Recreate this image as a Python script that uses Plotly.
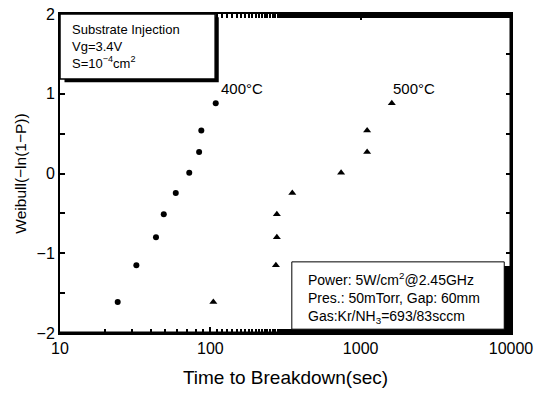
import plotly.graph_objects as go

# Data
weibull_y = [-1.61, -1.15, -0.80, -0.51, -0.245, 0.01, 0.27, 0.54, 0.88]
t_400C = [24.2, 32.2, 43.5, 49.0, 58.9, 72.4, 84.2, 87.1, 108.6]
t_500C = [104.7, 273, 277, 277, 351, 741, 1104, 1104, 1611]

x_tickvals = [10, 100, 1000, 10000]
x_ticktext = ["10", "100", "1000", "10000"]
y_tickvals = [-2, -1.5, -1, -0.5, 0, 0.5, 1, 1.5, 2]
y_ticktext = ["−2", "", "−1", "", "0", "", "1", "", "2"]

FONT = "Liberation Sans, Arial, sans-serif"

fig = go.Figure()
fig.add_trace(go.Scatter(x=t_400C, y=weibull_y, mode="markers",
                         marker=dict(symbol="circle", size=6, color="black"),
                         name="400°C", showlegend=False))
fig.add_trace(go.Scatter(x=t_500C, y=weibull_y, mode="markers",
                         marker=dict(symbol="triangle-up", size=7, color="black"),
                         name="500°C", showlegend=False))

axis_common = dict(showline=True, linecolor="black", linewidth=2, mirror="allticks",
                   ticks="inside", tickcolor="black", showgrid=False, zeroline=False,
                   automargin=False,
                   tickfont=dict(family=FONT, size=16, color="black"))

fig.update_xaxes(type="log", range=[1, 4], tickvals=x_tickvals,
                 ticktext=x_ticktext, ticklen=6, tickwidth=1.5,
                 minor=dict(ticks="inside", ticklen=4, tickcolor="black", tickwidth=1.5, showgrid=False),
                 title=dict(text="Time to Breakdown(sec)", font=dict(family=FONT, size=19, color="black"), standoff=14),
                 **axis_common)
fig.update_yaxes(range=[-2, 2], tickvals=y_tickvals,
                 ticktext=y_ticktext, ticklen=5, tickwidth=1.5,
                 title=dict(text="Weibull(−ln(1−P))", font=dict(family=FONT, size=15.5, color="black"), standoff=6),
                 **axis_common)

shapes = [
    # top-left box shadow and box
    dict(type="rect", xref="paper", yref="paper", x0=0.01, x1=0.352, y0=0.786, y1=0.99,
         fillcolor="black", line=dict(width=0), layer="above"),
    dict(type="rect", xref="paper", yref="paper", x0=0.0, x1=0.344, y0=0.796, y1=1.0,
         fillcolor="white", line=dict(color="black", width=1.5), layer="above"),
    # bottom-right box shadow and box
    dict(type="rect", xref="paper", yref="paper", x0=0.525, x1=1.0, y0=0.0, y1=0.21,
         fillcolor="black", line=dict(width=0), layer="above"),
    dict(type="rect", xref="paper", yref="paper", x0=0.514, x1=0.985, y0=0.012, y1=0.223,
         fillcolor="white", line=dict(color="black", width=1), layer="above"),
    # thicker right and bottom frame
    dict(type="line", xref="paper", yref="paper", x0=1.0, x1=1.0, y0=0, y1=1,
         line=dict(color="black", width=3), layer="above"),
    dict(type="line", xref="paper", yref="paper", x0=0, x1=1.0, y0=0, y1=0,
         line=dict(color="black", width=3), layer="above"),
]

annotations = [
    dict(xref="paper", yref="paper", x=0.022, y=0.982, xanchor="left", yanchor="top",
         align="left", showarrow=False,
         text="Substrate Injection<br>Vg=3.4V<br>S=10<sup>−4</sup>cm<sup>2</sup>",
         font=dict(family=FONT, size=13, color="black")),
    dict(xref="paper", yref="paper", x=0.545, y=0.205, xanchor="left", yanchor="top",
         align="left", showarrow=False,
         text="Power: 5W/cm<sup>2</sup>@2.45GHz<br>Pres.: 50mTorr, Gap: 60mm<br>Gas:Kr/NH<sub>3</sub>=693/83sccm",
         font=dict(family=FONT, size=14, color="black")),
    dict(xref="paper", yref="paper", x=(219 - 60) / 451, y=(333 - 88) / 319, xanchor="left", yanchor="middle",
         showarrow=False, text="400°C", font=dict(family=FONT, size=15, color="black")),
    dict(xref="paper", yref="paper", x=(391 - 60) / 451, y=(333 - 88) / 319, xanchor="left", yanchor="middle",
         showarrow=False, text="500°C", font=dict(family=FONT, size=15, color="black")),
]

fig.update_layout(width=535, height=394, margin=dict(l=60, r=24, t=14, b=61),
                  plot_bgcolor="white", paper_bgcolor="white",
                  shapes=shapes, annotations=annotations, showlegend=False)

fig.write_html("out.html")
